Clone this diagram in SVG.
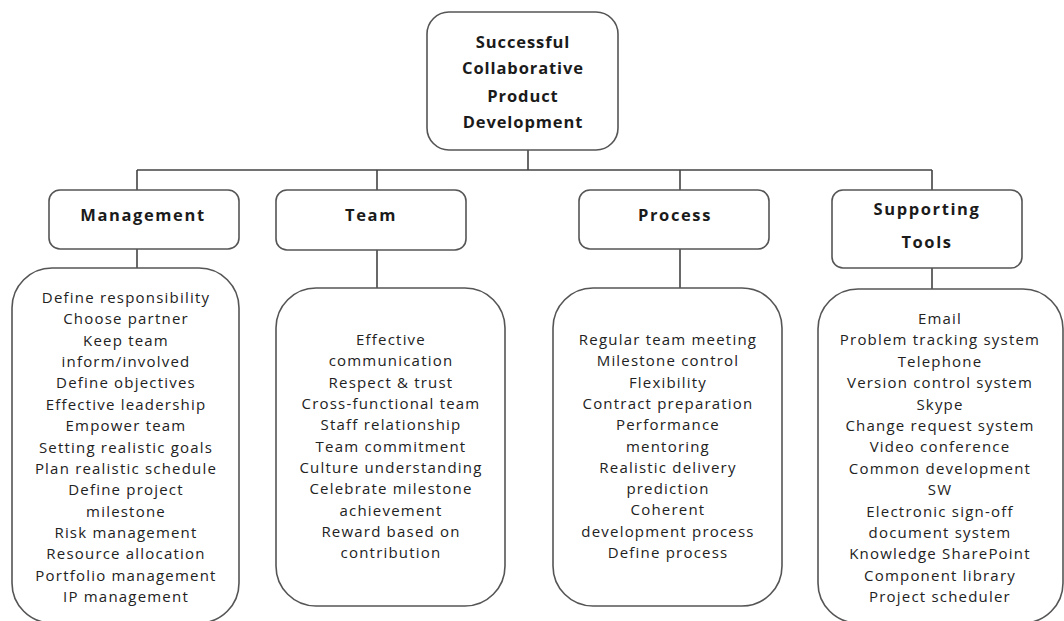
<svg xmlns="http://www.w3.org/2000/svg" width="1064" height="621" viewBox="0 0 1064 621">
<style>
.box{fill:#fff;stroke:#555;stroke-width:1.6}
.conn{fill:none;stroke:#444;stroke-width:1.6}
.hd{font-family:"Open Sans","Liberation Sans",sans-serif;font-weight:bold;font-size:16.5px;letter-spacing:1.6px;fill:#1b1b1b;text-anchor:middle}
.tt{letter-spacing:0.9px}
.bd{font-family:"Open Sans","Liberation Sans",sans-serif;font-size:15px;letter-spacing:1.2px;fill:#222;text-anchor:middle}
</style>
<rect width="1064" height="621" fill="#fff"/>
<g id="connectors">
<path class="conn" d="M528,150V170M137,170H932M137,170V190M377,170V190M680,170V190M932,170V190M137,249V268M377,250V288M680,249V288M932,268V289"/>
</g>
<g id="root">
<rect class="box" x="427" y="12" width="191" height="138" rx="22"/>
<text class="hd tt"><tspan x="523" y="48">Successful</tspan><tspan x="523" y="74">Collaborative</tspan><tspan x="523" y="102">Product</tspan><tspan x="523" y="128">Development</tspan></text>
</g>
<g id="management">
<rect class="box" x="49" y="190" width="190" height="59" rx="11"/>
<text class="hd" x="143" y="221">Management</text>
</g>
<g id="team">
<rect class="box" x="276" y="190" width="190" height="60" rx="11"/>
<text class="hd" x="371" y="221">Team</text>
</g>
<g id="process">
<rect class="box" x="579" y="190" width="190" height="59" rx="11"/>
<text class="hd" x="675" y="221">Process</text>
</g>
<g id="supporting-tools">
<rect class="box" x="832" y="190" width="190" height="78" rx="11"/>
<text class="hd"><tspan x="927" y="215">Supporting</tspan><tspan x="927" y="248">Tools</tspan></text>
</g>
<g id="management-items">
<rect class="box" x="12" y="268" width="227" height="355" rx="40"/>
<text class="bd"><tspan x="126" y="303">Define responsibility</tspan><tspan x="126" dy="21.36">Choose partner</tspan><tspan x="126" dy="21.36">Keep team</tspan><tspan x="126" dy="21.36">inform/involved</tspan><tspan x="126" dy="21.36">Define objectives</tspan><tspan x="126" dy="21.36">Effective leadership</tspan><tspan x="126" dy="21.36">Empower team</tspan><tspan x="126" dy="21.36">Setting realistic goals</tspan><tspan x="126" dy="21.36">Plan realistic schedule</tspan><tspan x="126" dy="21.36">Define project</tspan><tspan x="126" dy="21.36">milestone</tspan><tspan x="126" dy="21.36">Risk management</tspan><tspan x="126" dy="21.36">Resource allocation</tspan><tspan x="126" dy="21.36">Portfolio management</tspan><tspan x="126" dy="21.36">IP management</tspan></text>
</g>
<g id="team-items">
<rect class="box" x="276" y="288" width="229" height="318" rx="40"/>
<text class="bd"><tspan x="391" y="345">Effective</tspan><tspan x="391" dy="21.33">communication</tspan><tspan x="391" dy="21.33">Respect &amp; trust</tspan><tspan x="391" dy="21.33">Cross-functional team</tspan><tspan x="391" dy="21.33">Staff relationship</tspan><tspan x="391" dy="21.33">Team commitment</tspan><tspan x="391" dy="21.33">Culture understanding</tspan><tspan x="391" dy="21.33">Celebrate milestone</tspan><tspan x="391" dy="21.33">achievement</tspan><tspan x="391" dy="21.33">Reward based on</tspan><tspan x="391" dy="21.33">contribution</tspan></text>
</g>
<g id="process-items">
<rect class="box" x="553" y="288" width="229" height="318" rx="40"/>
<text class="bd"><tspan x="668" y="345">Regular team meeting</tspan><tspan x="668" dy="21.3">Milestone control</tspan><tspan x="668" dy="21.3">Flexibility</tspan><tspan x="668" dy="21.3">Contract preparation</tspan><tspan x="668" dy="21.3">Performance</tspan><tspan x="668" dy="21.3">mentoring</tspan><tspan x="668" dy="21.3">Realistic delivery</tspan><tspan x="668" dy="21.3">prediction</tspan><tspan x="668" dy="21.3">Coherent</tspan><tspan x="668" dy="21.3">development process</tspan><tspan x="668" dy="21.3">Define process</tspan></text>
</g>
<g id="supporting-items">
<rect class="box" x="818" y="289" width="245" height="334" rx="40"/>
<text class="bd"><tspan x="940" y="324">Email</tspan><tspan x="940" dy="21.4">Problem tracking system</tspan><tspan x="940" dy="21.4">Telephone</tspan><tspan x="940" dy="21.4">Version control system</tspan><tspan x="940" dy="21.4">Skype</tspan><tspan x="940" dy="21.4">Change request system</tspan><tspan x="940" dy="21.4">Video conference</tspan><tspan x="940" dy="21.4">Common development</tspan><tspan x="940" dy="21.4">SW</tspan><tspan x="940" dy="21.4">Electronic sign-off</tspan><tspan x="940" dy="21.4">document system</tspan><tspan x="940" dy="21.4">Knowledge SharePoint</tspan><tspan x="940" dy="21.4">Component library</tspan><tspan x="940" dy="21.4">Project scheduler</tspan></text>
</g>
</svg>
